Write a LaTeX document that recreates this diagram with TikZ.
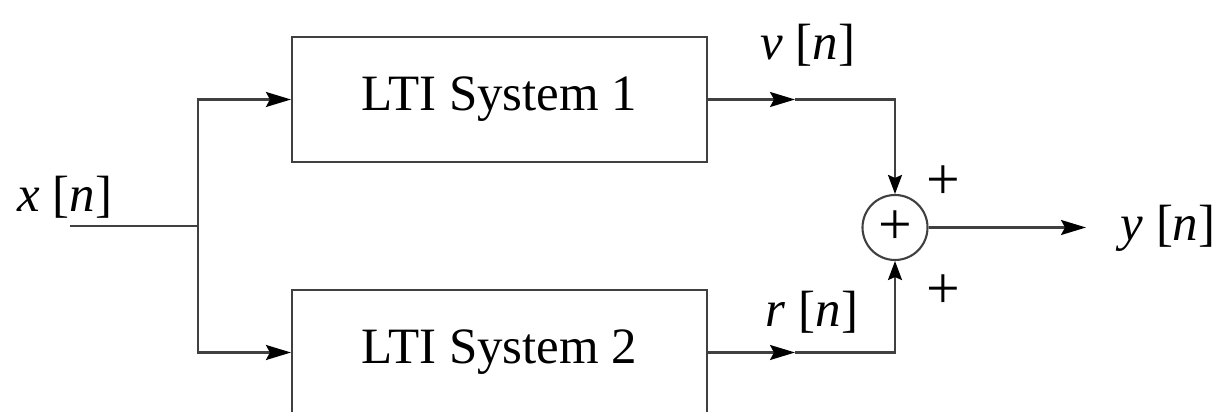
\documentclass[tikz,border=0pt]{standalone}
\usepackage{fontspec}
\setmainfont{Liberation Serif}
\usepackage{tikz}
\usetikzlibrary{arrows.meta, positioning}
\tikzstyle{block} = [rectangle, draw=black!75, line width=1.2pt, minimum width=8.3cm, minimum height=2.5cm, text centered]
\tikzstyle{summer} = [circle, draw=black!75, line width=1.2pt, minimum size=1.3cm, inner sep=0pt]
\tikzstyle{line} = [draw=black!75, line width=1.2pt]
\tikzstyle{arrow} = [line, -{Stealth[length=5mm, width=3mm, inset=0.8mm, black]}]
\tikzstyle{sumarrow} = [line, -{Stealth[length=3.8mm, width=2.8mm, inset=0.6mm, black]}]
\tikzstyle{lbl} = [inner sep=0pt]
\tikzstyle{sign} = [inner sep=0pt, font=\fontsize{34}{38}\selectfont]

\begin{document}
\begin{tikzpicture}[font=\fontsize{29}{33}\selectfont]
          \useasboundingbox (0,0) rectangle (24.52,-8.24);

          % the two systems
          \node[block] (sys1) at (9.99,-1.99) {LTI System 1};
          \node[block] (sys2) at (9.99,-7.05) {LTI System 2};

          % adder
          \node[summer] (sum) at (17.9,-4.55) {};
          \node[sign] (sum-plus) at (sum.center) {+};
          \node[sign] (plus-1) at (18.86,-3.66) {+};
          \node[sign] (plus-2) at (18.86,-5.84) {+};

          % input side
          \coordinate (xin) at (1.4,-4.52);
          \coordinate (split) at (3.96,-4.52);
          \node[lbl] (x-label) at (1.3,-3.94) {\textit{x} [\textit{n}]};

          \draw[line] (xin) -- (split);
          \draw[arrow] (split) |- (sys1.west);
          \draw[arrow] (split) |- (sys2.west);

          % outputs of the systems
          \coordinate (v-mid) at (15.9,-1.99);
          \coordinate (r-mid) at (15.9,-7.05);
          \node[lbl] (v-label) at (16.16,-0.9) {\textit{v} [\textit{n}]};
          \node[lbl] (r-label) at (16.24,-6.24) {\textit{r} [\textit{n}]};

          \draw[arrow] (sys1.east) -- (v-mid);
          \draw[sumarrow] (v-mid) -| (sum.north);
          \draw[arrow] (sys2.east) -- (r-mid);
          \draw[sumarrow] (r-mid) -| (sum.south);

          % output
          \coordinate (yout) at (21.72,-4.55);
          \node[lbl] (y-label) at (23.36,-4.56) {\textit{y} [\textit{n}]};
          \draw[arrow] (sum.east) -- (yout);
      \end{tikzpicture}
\end{document}
